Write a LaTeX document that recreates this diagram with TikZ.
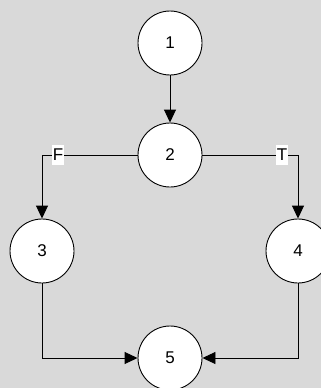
\documentclass[tikz,border=0pt]{standalone}
\usepackage{fontspec}
\setmainfont{Liberation Sans}
\usetikzlibrary{arrows.meta}

\begin{document}
\begin{tikzpicture}[x=1pt, y=-1pt,
    state/.style={circle, draw=black, fill=white, line width=0.9pt,
        minimum size=64pt, inner sep=0pt, font=\fontsize{17}{20}\selectfont},
    flow/.style={line width=0.9pt, -{Triangle[length=13pt,width=12pt]}},
    branch/.style={fill=white, inner xsep=0.5pt, inner ysep=0pt,
        minimum height=20pt, font=\fontsize{17}{20}\selectfont}]
\useasboundingbox (0,0) rectangle (321,388);
\clip (0,0) rectangle (321,388);
\fill[gray!30] (0,0) rectangle (321,388);
% decision graph
\node[state] (n1) at (170,43) {1};
\node[state] (n2) at (170,155) {2};
\node[state] (n3) at (42,251) {3};
\node[state] (n4) at (298,251) {4};
\node[state] (n5) at (170,358) {5};
\draw[flow] (n1) -- (n2);
\draw[flow] (n2.west) -| (n3.north);
\draw[flow] (n2.east) -| (n4.north);
\draw[flow] (n3.south) |- (n5.west);
\draw[flow] (n4.south) |- (n5.east);
\node[branch] (f) at (58,155) {F};
\node[branch] (t) at (282,155) {T};
\end{tikzpicture}
\end{document}
